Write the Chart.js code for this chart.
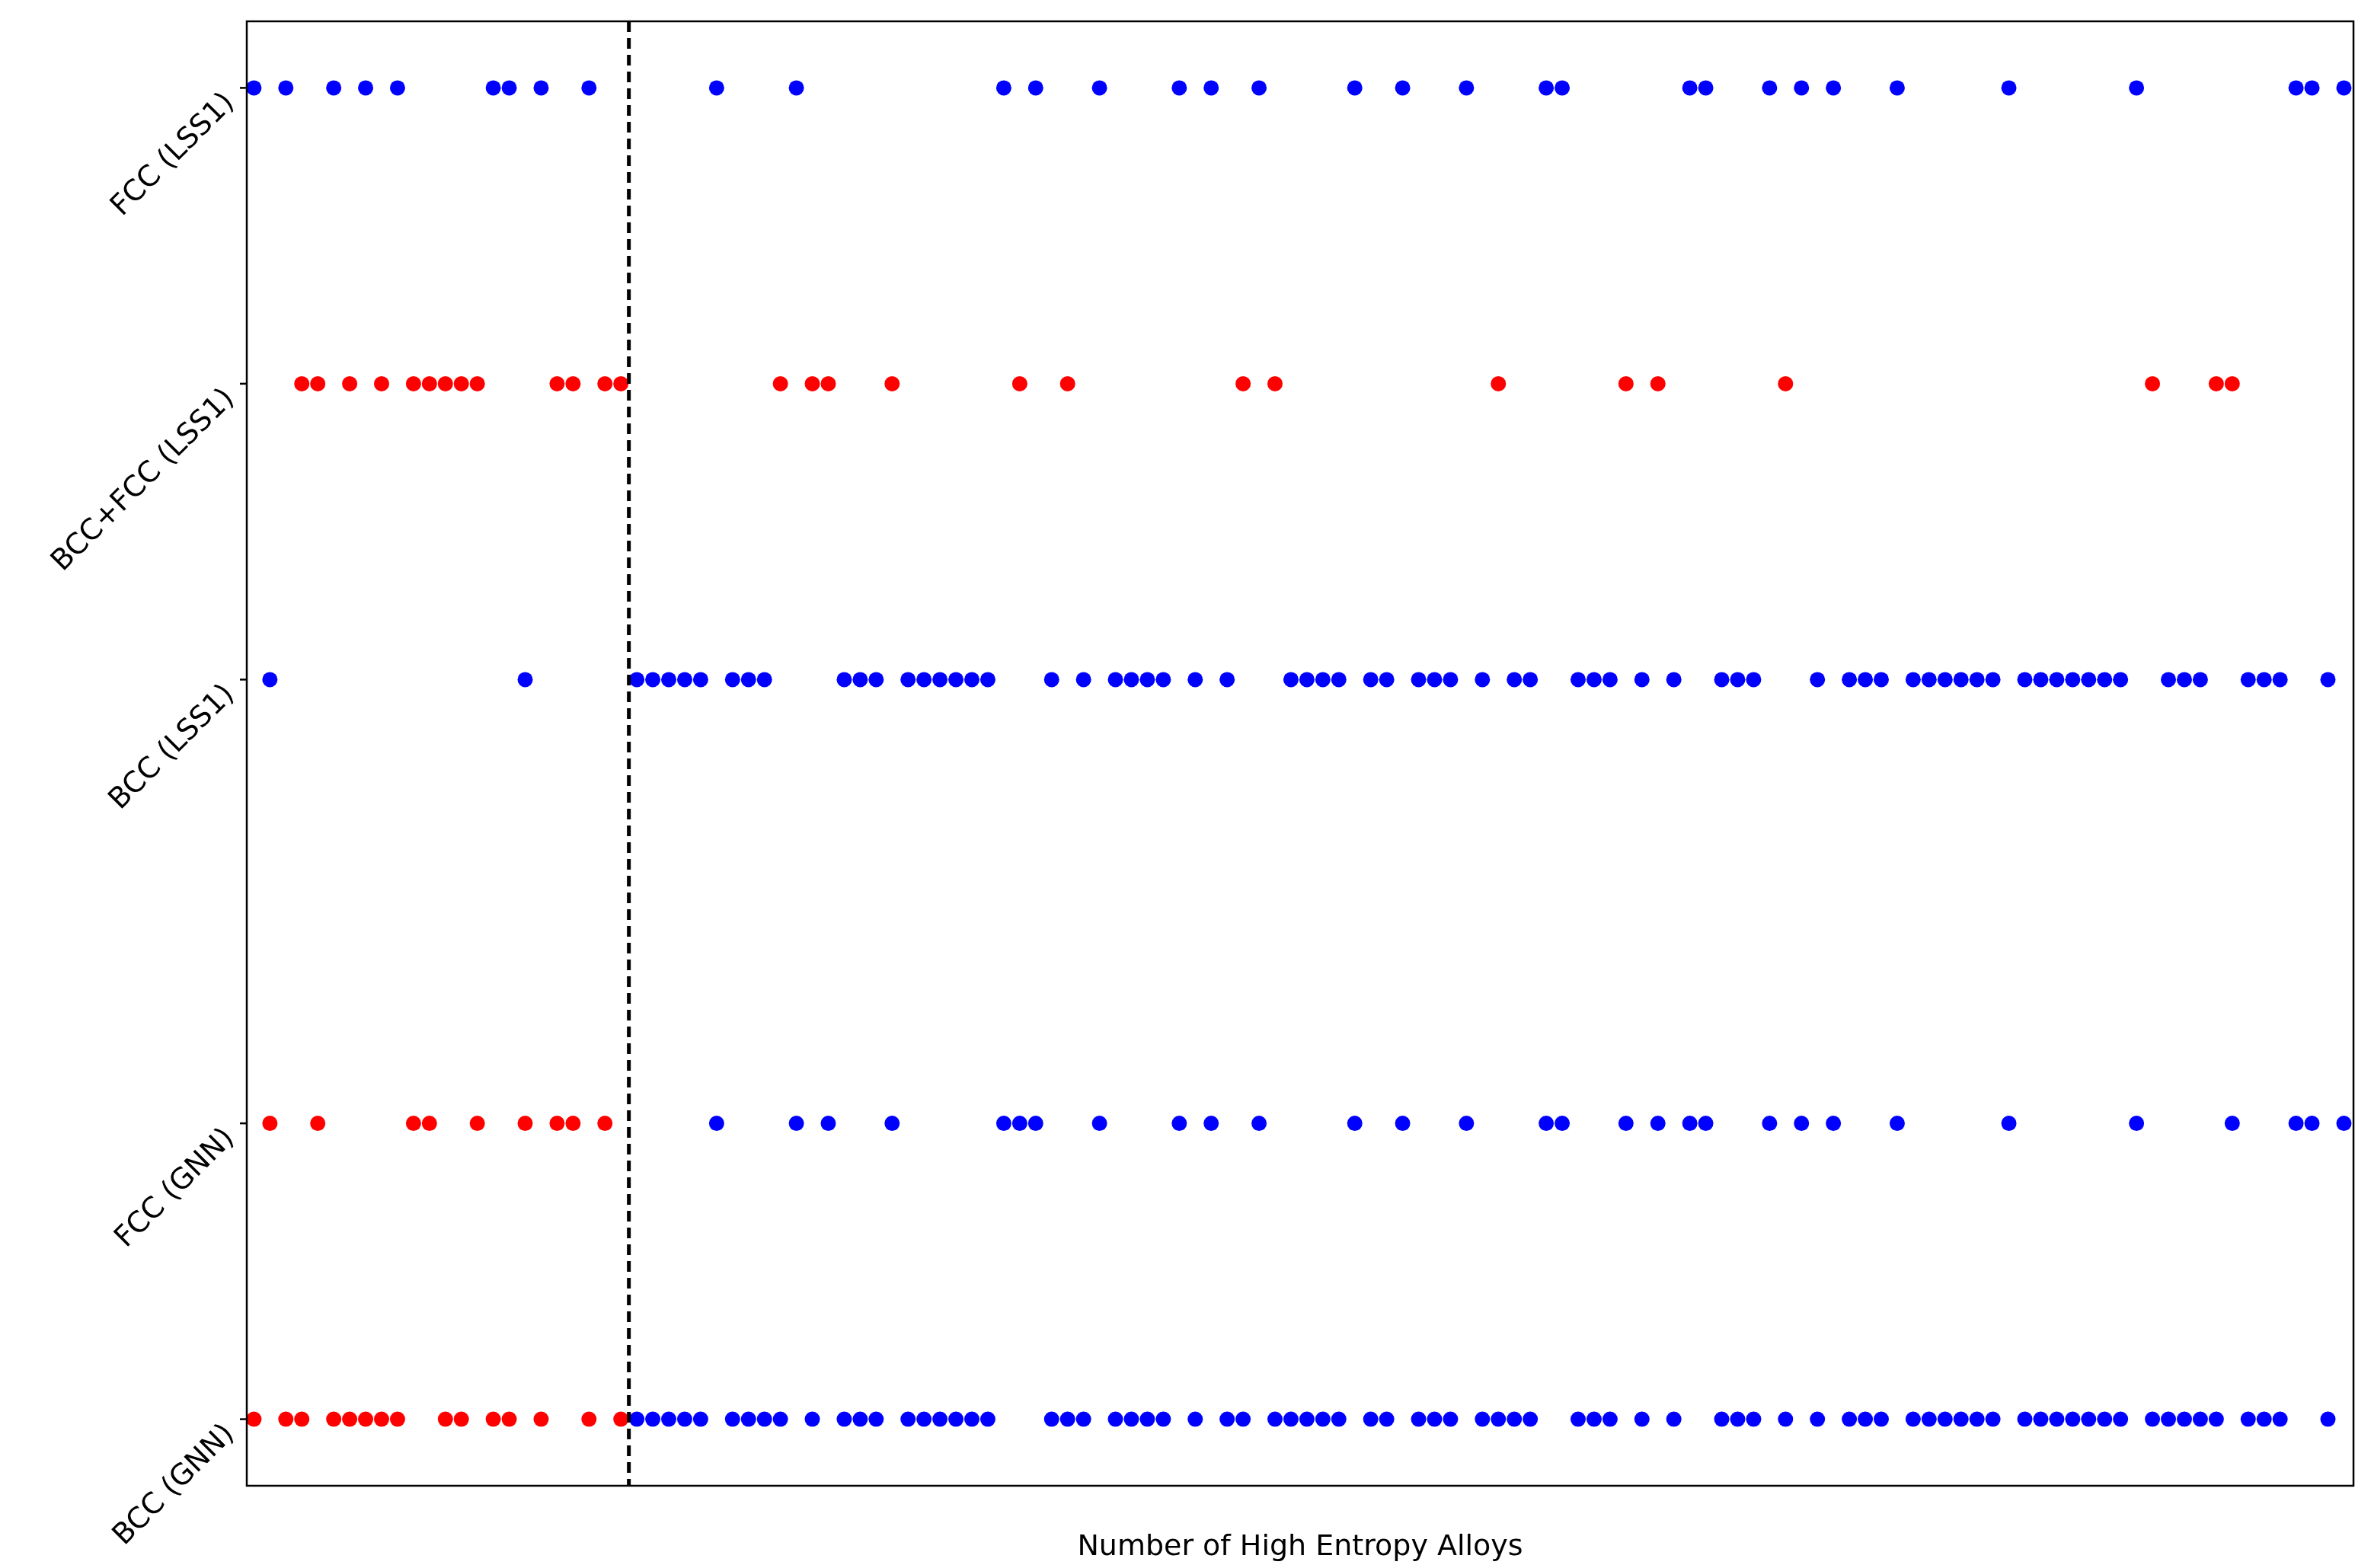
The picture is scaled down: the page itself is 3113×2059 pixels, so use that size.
<!DOCTYPE html>
<html>
<head>
<meta charset="utf-8">
<script src="https://cdn.jsdelivr.net/npm/chart.js@4/dist/chart.umd.min.js"></script>
<style>
  body { margin: 0; background: #fff; }
  canvas { display: block; }
</style>
</head>
<body>
<canvas id="chart" width="3113" height="2059"></canvas>
<script>
// alloy indices per predicted phase
const lss1Fcc = [0, 2, 5, 7, 9, 15, 16, 18, 21, 29, 34, 47, 49, 53, 58, 60, 63, 69, 72, 76, 81, 82, 90, 91, 95,
  97, 99, 103, 110, 118, 128, 129, 131];
const lss1BccFcc = [3, 4, 6, 8, 10, 11, 12, 13, 14, 19, 20, 22, 23, 33, 35, 36, 40, 48, 51, 62, 64, 78, 86, 88, 96,
  119, 123, 124];
const lss1Bcc = [1, 17, 24, 25, 26, 27, 28, 30, 31, 32, 37, 38, 39, 41, 42, 43, 44, 45, 46, 50, 52, 54, 55, 56, 57,
  59, 61, 65, 66, 67, 68, 70, 71, 73, 74, 75, 77, 79, 80, 83, 84, 85, 87, 89, 92, 93, 94, 98, 100, 101, 102,
  104, 105, 106, 107, 108, 109, 111, 112, 113, 114, 115, 116, 117, 120, 121, 122, 125, 126, 127, 130];
const gnnFcc = [1, 4, 10, 11, 14, 17, 19, 20, 22, 29, 34, 36, 40, 47, 48, 49, 53, 58, 60, 63, 69, 72, 76, 81, 82,
  86, 88, 90, 91, 95, 97, 99, 103, 110, 118, 124, 128, 129, 131];
const gnnBcc = [0, 2, 3, 5, 6, 7, 8, 9, 12, 13, 15, 16, 18, 21, 23, 24, 25, 26, 27, 28, 30, 31, 32, 33, 35, 37, 38,
  39, 41, 42, 43, 44, 45, 46, 50, 51, 52, 54, 55, 56, 57, 59, 61, 62, 64, 65, 66, 67, 68, 70, 71, 73, 74, 75, 77,
  78, 79, 80, 83, 84, 85, 87, 89, 92, 93, 94, 96, 98, 100, 101, 102, 104, 105, 106, 107, 108, 109, 111, 112, 113,
  114, 115, 116, 117, 119, 120, 121, 122, 123, 125, 126, 127, 130];

const rowLabels = ["BCC (GNN)", "FCC (GNN)", "BCC (LSS1)", "BCC+FCC (LSS1)", "FCC (LSS1)"];
const rowLevels = [0, 1, 2.5, 3.5, 4.5];
const splitAt = 23.5;

const BLUE = "#0000ff";
const RED = "#ff0000";

function pts(idx, level) {
  return idx.map(i => ({ x: i, y: level }));
}

function ds(idx, level, color) {
  return {
    data: pts(idx, level),
    pointRadius: 10,
    pointHoverRadius: 10,
    borderWidth: 0,
    pointBackgroundColor: color,
    pointBorderColor: color
  };
}

// GNN points left of the dashed line are red
const gnnColor = ctx => (ctx.raw && ctx.raw.x < splitAt ? RED : BLUE);

const framePlugin = {
  id: "frame",
  afterDatasetsDraw(chart) {
    const { ctx, chartArea: a, scales } = chart;
    const xs = scales.x, ys = scales.y;
    ctx.save();
    // dashed separator
    const px = xs.getPixelForValue(splitAt);
    ctx.strokeStyle = "#000";
    ctx.lineWidth = 5;
    ctx.setLineDash([14, 8]);
    ctx.beginPath();
    ctx.moveTo(px, a.top);
    ctx.lineTo(px, a.bottom);
    ctx.stroke();
    ctx.setLineDash([]);
    // box
    ctx.lineWidth = 2.5;
    ctx.strokeRect(a.left, a.top, a.right - a.left, a.bottom - a.top);
    // y tick marks + rotated labels
    ctx.font = "38px 'DejaVu Sans'";
    ctx.fillStyle = "#000";
    ctx.textAlign = "right";
    ctx.textBaseline = "middle";
    rowLevels.forEach((v, k) => {
      const py = ys.getPixelForValue(v);
      ctx.beginPath();
      ctx.moveTo(a.left, py);
      ctx.lineTo(a.left - 9, py);
      ctx.stroke();
      ctx.save();
      ctx.translate(a.left - 22, py + 14);
      ctx.rotate(-Math.PI / 4);
      ctx.fillText(rowLabels[k], 0, 0);
      ctx.restore();
    });
    ctx.restore();
  }
};

new Chart(document.getElementById("chart"), {
  type: "scatter",
  data: {
    datasets: [
      ds(lss1Fcc, 4.5, BLUE),
      ds(lss1BccFcc, 3.5, RED),
      ds(lss1Bcc, 2.5, BLUE),
      ds(gnnFcc, 1, gnnColor),
      ds(gnnBcc, 0, gnnColor)
    ]
  },
  options: {
    responsive: false,
    animation: false,
    devicePixelRatio: 1,
    layout: { padding: { top: 28, right: 23, left: 0, bottom: 0 } },
    plugins: { legend: { display: false }, tooltip: { enabled: false } },
    scales: {
      x: {
        type: "linear",
        min: -0.45,
        max: 131.6,
        grid: { display: false, drawTicks: false },
        border: { display: false },
        ticks: { display: false },
        title: {
          display: true,
          text: "Number of High Entropy Alloys",
          color: "#000",
          font: { family: "DejaVu Sans", size: 38 },
          padding: { top: 8 }
        },
        afterFit(s) { s.height = 108; }
      },
      y: {
        min: -0.225,
        max: 4.725,
        grid: { display: false, drawTicks: false },
        border: { display: false },
        ticks: { display: false },
        afterFit(s) { s.width = 324; }
      }
    }
  },
  plugins: [framePlugin]
});
</script>
</body>
</html>
